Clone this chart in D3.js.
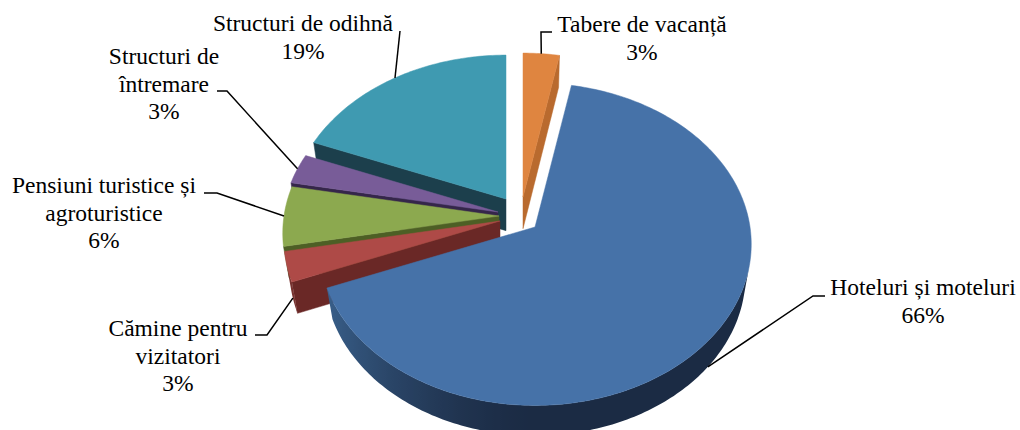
<!DOCTYPE html>
<html><head><meta charset="utf-8">
<script src="https://cdn.jsdelivr.net/npm/d3@7"></script>
<style>html,body{margin:0;padding:0;background:#fff;}svg{display:block;}
text{font-family:"Liberation Serif","Times New Roman","DejaVu Serif",serif;}</style>
</head><body>
<svg id="chart" width="1020" height="430"></svg>
<script>
// ---- data ----
const categories = ["Tabere de vacanță", "Hoteluri și moteluri", "Cămine pentru vizitatori",
  "Pensiuni turistice și agroturistice", "Structuri de întremare", "Structuri de odihnă"];
const values = [3, 66, 3, 6, 3, 19];
const labelLines = [["Tabere de vacanță"], ["Hoteluri și moteluri"], ["Cămine pentru", "vizitatori"],
  ["Pensiuni turistice și", "agroturistice"], ["Structuri de", "întremare"], ["Structuri de odihnă"]];

// ---- style ----
const topColors  = ["#DF8540", "#4672A8", "#AE4A47", "#8CA94F", "#785C98", "#3F9AB1"];
const sideColors = ["#B96A2E", "#1B2B44", "#6A2826", "#4D5F25", "#35264A", "#1C3F4C"];
const sideLight  = ["#C97835", "#3C6592", "#7A3431", "#5A6E2D", "#45325E", "#27566A"];
const base = {x: 500, y: 215};
const explode = [[23, -18], [35, 12], [0, 6], [-1, 1], [-2, -3], [6, -16]];
const labelPos = [
  {x: 642, y: 32, lead: [[552, 32], [541, 32]]},
  {x: 923, y: 295, lead: [[825, 296], [813, 296]]},
  {x: 178, y: 336, lead: [[255, 335], [267, 335]]},
  {x: 104, y: 193, lead: [[204, 193], [217, 193]]},
  {x: 164, y: 64, lead: [[217, 91], [227, 91]]},
  {x: 303, y: 31, lead: [[400, 31]]}
];
const lineH = 27.6;

// ---- 3D projection ----
const rx = 215, D = 6.27, F = rx * D;
const s = 0.741, c = Math.sqrt(1 - s * s);
const thick = 0.225;
function proj(ax, ay, X, Y, Z) {
  const d = D - (Y * s + Z * c);
  return [ax + F * X / d, ay - F * (Y * c - Z * s) / d];
}
function pt(ax, ay, r, th, Y) { return proj(ax, ay, r * Math.sin(th), Y, -r * Math.cos(th)); }

const svg = d3.select("#chart");
const defs = svg.append("defs");
const pie = d3.pie().sort(null).value(d => d);
const arcs = pie(values).map((a, i) => ({...a, i, ax: base.x + explode[i][0], ay: base.y + explode[i][1]}));
const line = d3.line();
const wallLimit = -1 / (D * c);

const order = arcs.slice().sort((a, b) => a.ay - b.ay);
const g = svg.append("g");
order.forEach(a => {
  const i = a.i, a0 = a.startAngle, a1 = a.endAngle, ax = a.ax, ay = a.ay;
  const sg = g.append("g");
  // radial faces
  const radial = th => line([pt(ax, ay, 0, th, 0), pt(ax, ay, 1, th, 0), pt(ax, ay, 1, th, -thick), pt(ax, ay, 0, th, -thick)]) + "Z";
  if (Math.sin(a0) < 0) sg.append("path").attr("d", radial(a0)).attr("fill", sideColors[i]).attr("stroke", sideColors[i]).attr("stroke-width", 0.5);
  if (Math.sin(a1) > 0) sg.append("path").attr("d", radial(a1)).attr("fill", sideColors[i]).attr("stroke", sideColors[i]).attr("stroke-width", 0.5);
  // outer wall (visible range) as one path with a gradient
  const N = Math.max(8, Math.ceil((a1 - a0) / (Math.PI / 180)));
  const vis = [];
  for (let k = 0; k <= N; k++) {
    const th = a0 + (a1 - a0) * k / N;
    if (Math.cos(th) < wallLimit) vis.push(th);
  }
  if (vis.length > 1) {
    const topArc = vis.map(th => pt(ax, ay, 1, th, 0));
    const botArc = vis.map(th => pt(ax, ay, 1, th, -thick)).reverse();
    const xs = topArc.map(p => p[0]);
    const xmin = d3.min(xs), xmax = d3.max(xs);
    const gid = "wall" + i;
    const lg = defs.append("linearGradient").attr("id", gid).attr("gradientUnits", "userSpaceOnUse")
      .attr("x1", xmin).attr("x2", xmax).attr("y1", 0).attr("y2", 0);
    const dark = d3.rgb(sideColors[i]), light = d3.rgb(sideLight[i]);
    const samples = vis.map((th, k) => ({x: xs[k], f: Math.pow(Math.max(0, -Math.sin(th)), 1.6)}))
      .sort((p, q) => p.x - q.x);
    samples.forEach(p => lg.append("stop").attr("offset", xmax > xmin ? (p.x - xmin) / (xmax - xmin) : 0)
      .attr("stop-color", d3.interpolateRgb(dark, light)(p.f)));
    sg.append("path").attr("d", line(topArc.concat(botArc)) + "Z").attr("fill", `url(#${gid})`);
  }
  // top face
  const M = Math.max(4, Math.ceil((a1 - a0) / (Math.PI / 180)));
  const topPts = [pt(ax, ay, 0, a0, 0)];
  for (let k = 0; k <= M; k++) topPts.push(pt(ax, ay, 1, a0 + (a1 - a0) * k / M, 0));
  sg.append("path").attr("d", line(topPts) + "Z").attr("fill", topColors[i])
    .attr("stroke", topColors[i]).attr("stroke-width", 0.5);
});

// ---- labels ----
const lgp = svg.append("g");
arcs.forEach(a => {
  const i = a.i, mid = (a.startAngle + a.endAngle) / 2;
  const Z = -Math.cos(mid);
  const anchor = pt(a.ax, a.ay, 1, mid, Z > 0.1 ? -thick : 0);
  const lp = labelPos[i];
  lgp.append("path").attr("d", line(lp.lead.concat([anchor]))).attr("fill", "none")
    .attr("stroke", "#000").attr("stroke-width", 1.5);
  const lines = labelLines[i].concat([Math.round(values[i]) + "%"]);
  const txt = lgp.append("text").attr("text-anchor", "middle")
    .style("font-family", '"Liberation Serif", "Times New Roman", "DejaVu Serif", serif')
    .style("font-size", "23.5px").attr("fill", "#000");
  lines.forEach((l, k) => txt.append("tspan").attr("x", lp.x).attr("y", lp.y + k * lineH).text(l));
});
</script>
</body></html>
